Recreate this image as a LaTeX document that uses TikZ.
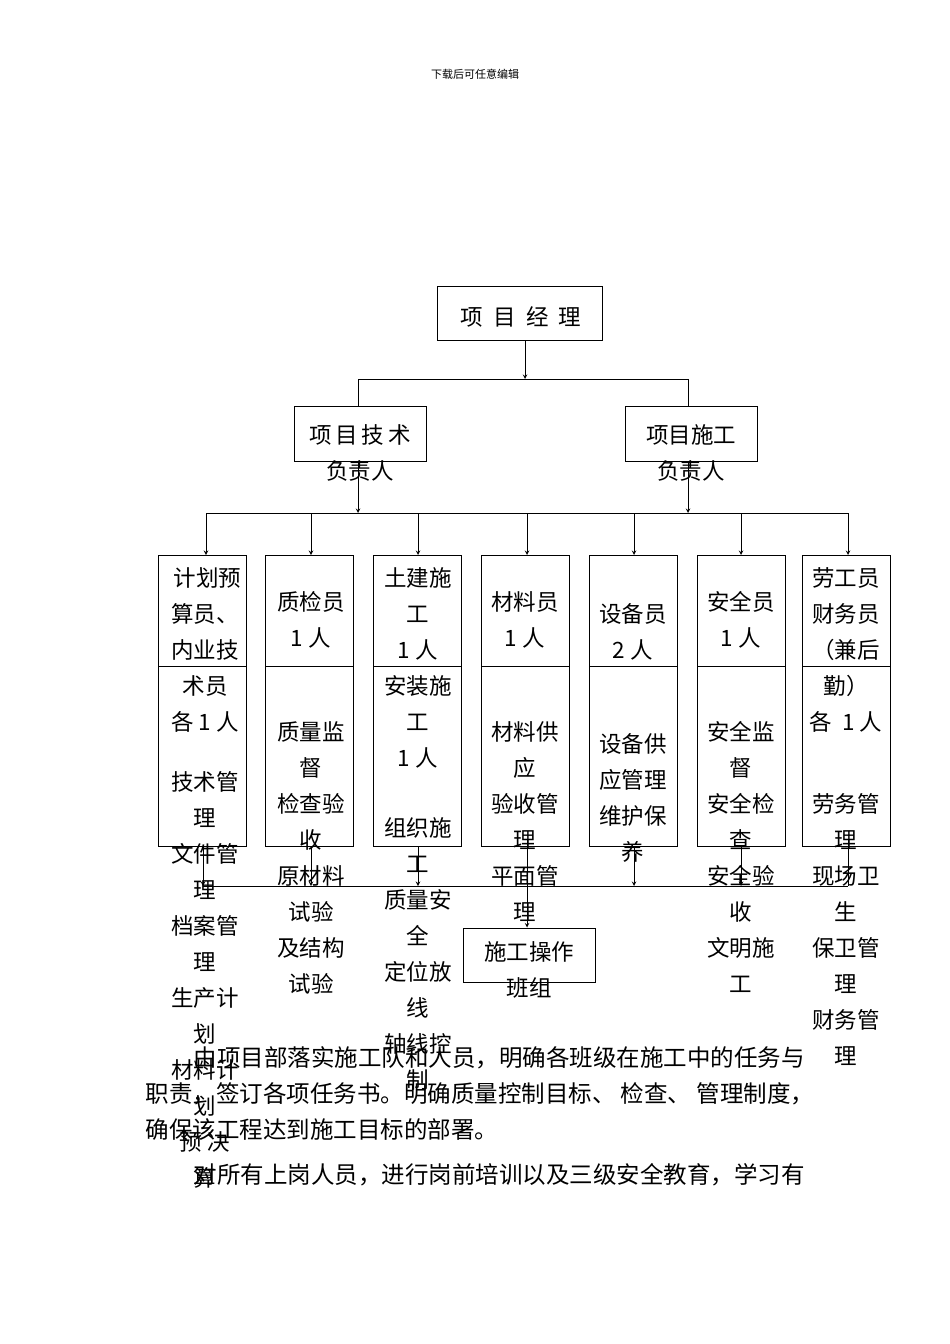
\documentclass[tikz,border=0pt]{standalone}
\usepackage{fontspec}
\setmainfont{Noto Sans CJK SC}
\begin{document}
\begin{tikzpicture}[x=1pt,y=-1pt,line width=1pt,>=stealth,
  box/.style={draw,rectangle},
  txt/.style={inner sep=0pt,align=center,font=\fontsize{22.5}{36}\selectfont},
  ptxt/.style={inner sep=0pt,align=left,font=\fontsize{23.5}{36}\selectfont},
  arr/.style={->}]
\useasboundingbox (0,0) rectangle (950,1344);
\node[font=\fontsize{11}{13}\selectfont] (hdr) at (475,74) {下载后可任意编辑};
% top
\node[box,minimum width=165pt,minimum height=54pt] (pm) at (519.5,313) {};
\node[txt] (pmt) at (521,317) {项\ \ 目\ \ 经\ \ 理};
\coordinate (j1) at (525,379);
\draw[arr] (pm.south -| j1) -- (j1);
\node[box,minimum width=132pt,minimum height=55pt] (tech) at (360,433.5) {};
\node[box,minimum width=132pt,minimum height=55pt] (cons) at (691,433.5) {};
\node[txt,anchor=north] (techt) at (360,424) {项\,目\,技\,术\\负责人};
\node[txt,anchor=north] (const) at (691,424) {项目施工\\负责人};
\draw (358,406) -- (358,379) -- (688,379) -- (688,406);
\coordinate (j2) at (358,513);
\coordinate (j3) at (688,513);
\draw[arr] (358,461) -- (j2);
\draw[arr] (688,461) -- (j3);
\draw (206,513) -- (848,513);
% columns
\foreach \n/\l/\r/\a in {c1/158/246/206,c2/265/353/311,c3/373/461/418,c4/481/569/527,c5/589/677/634,c6/697/785/741,c7/802/890/848}{
  \draw (\l,555) rectangle (\r,846);
  \draw (\l,666) -- (\r,666);
  \draw[arr] (\a,513) -- (\a,555);
}
\node[box,minimum width=132pt,minimum height=54pt] (team) at (529,955) {};
\node[txt,anchor=north] (teamt) at (529,941) {施工操作\\班组};
\draw (203,886) -- (848,886);
\foreach \a in {203,311,418,634,741}{\draw[arr] (\a,846) -- (\a,886);}
\draw (848,846) -- (848,886);
\draw[arr] (527,846) -- (team.north -| 527,0);
% column texts
\node[txt,anchor=north] (t1) at (205,567) {\ 计划预\\算员、\\内业技\\术员\\各 1 人\\[24pt]技术管\\理\\文件管\\理\\档案管\\理\\生产计\\划\\材料计\\划\\预\ 决\\算};
\node[txt,anchor=north] (t2) at (311,591) {质检员\\1 人\\[58pt]质量监\\督\\检查验\\收\\原材料\\试验\\及结构\\试验};
\node[txt,anchor=north] (t3) at (418,567) {土建施\\工\\1 人\\安装施\\工\\1 人\\[34pt]组织施\\工\\质量安\\全\\定位放\\线\\轴线控\\制};
\node[txt,anchor=north] (t4) at (525,591) {材料员\\1 人\\[58pt]材料供\\应\\验收管\\理\\平面管\\理};
\node[txt,anchor=north] (t5) at (633,603) {设备员\\2 人\\[58pt]设备供\\应管理\\维护保\\养};
\node[txt,anchor=north] (t6) at (741,591) {安全员\\1 人\\[58pt]安全监\\督\\安全检\\查\\安全验\\收\\文明施\\工};
\node[txt,anchor=north] (t7) at (846,567) {劳工员\\财务员\\（兼后\\勤）\\各\ \ 1 人\\[46pt]劳务管\\理\\现场卫\\生\\保卫管\\理\\财务管\\理};
% paragraph
\node[ptxt,anchor=north west] (p1) at (193,1046) {由项目部落实施工队和人员，明确各班级在施工中的任务与};
\node[ptxt,anchor=north west] (p2) at (145,1082) {职责，签订各项任务书。明确质量控制目标、\ 检查、\ 管理制度，\\确保该工程达到施工目标的部署。};
\node[ptxt,anchor=north west] (p3) at (193,1163) {对所有上岗人员，进行岗前培训以及三级安全教育，学习有};
\end{tikzpicture}
\end{document}
